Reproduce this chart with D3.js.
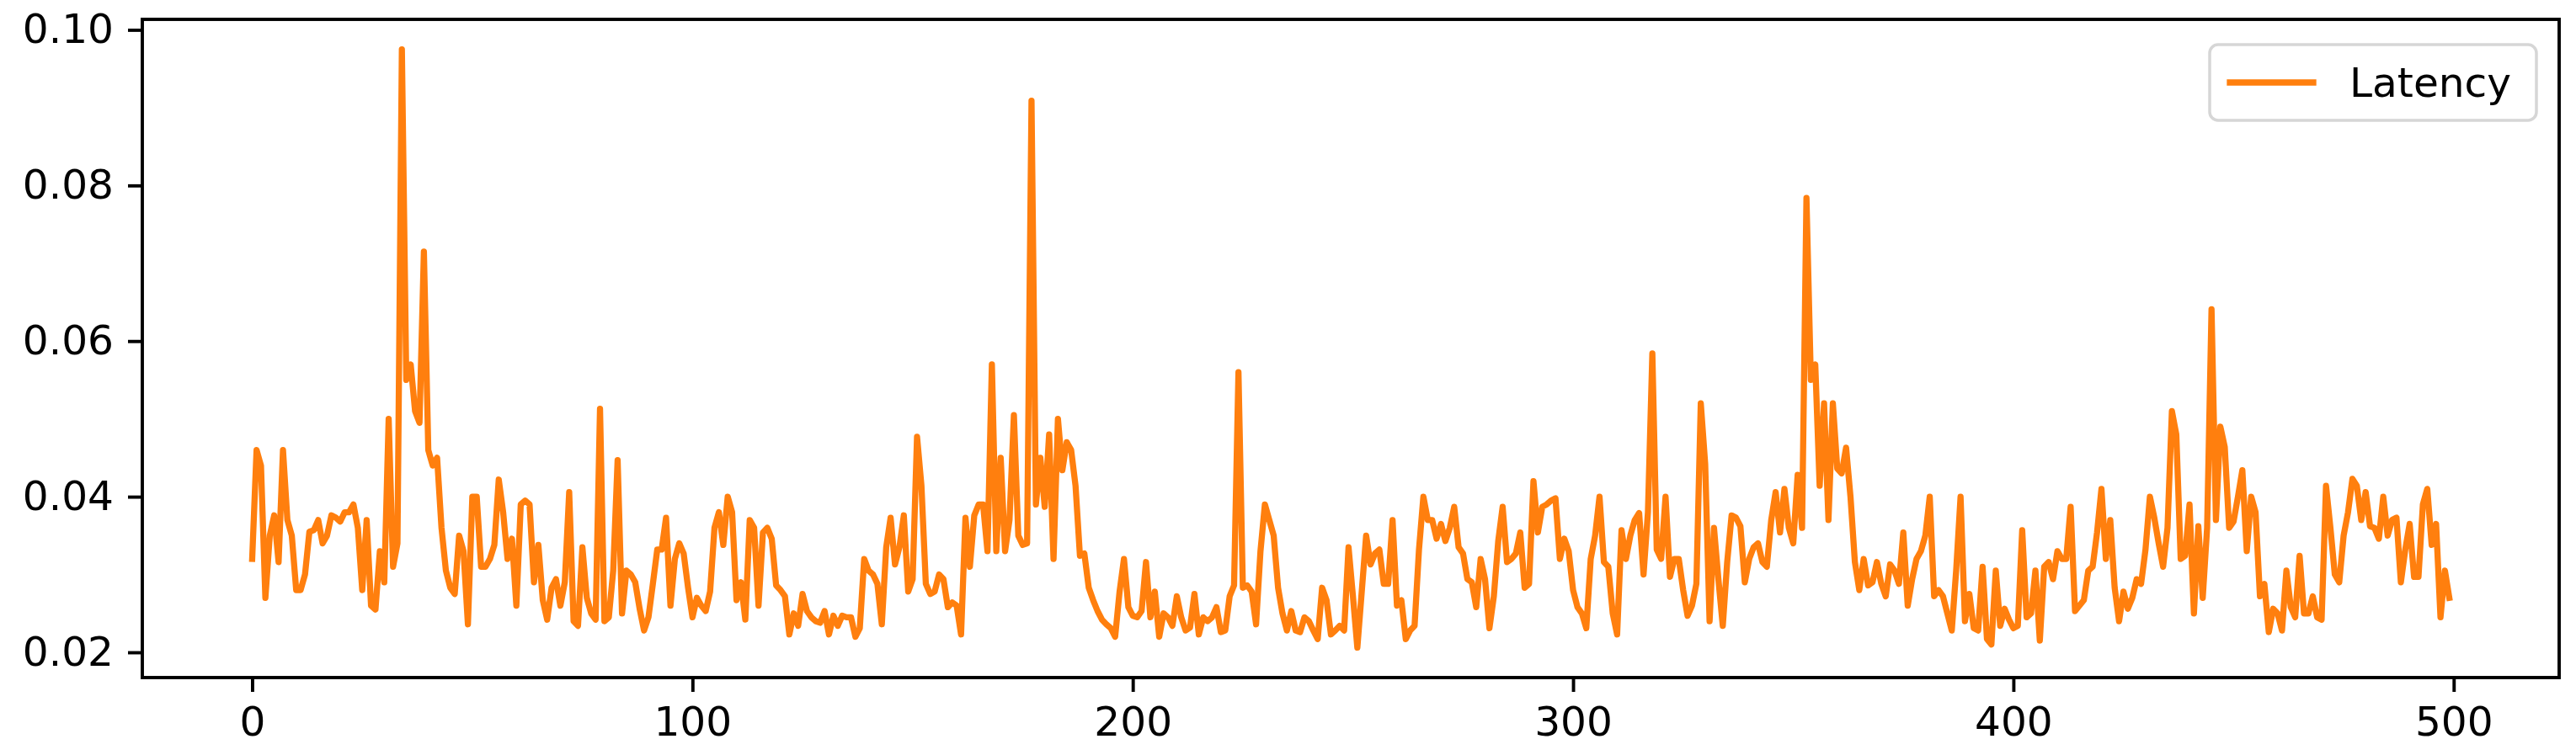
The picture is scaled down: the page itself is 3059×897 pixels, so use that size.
<!DOCTYPE html>
<html>
<head>
<meta charset="utf-8">
<script src="https://cdn.jsdelivr.net/npm/d3@7"></script>
<style>
  html, body { margin: 0; padding: 0; background: #ffffff; }
  svg { display: block; }
</style>
</head>
<body>
<svg id="chart" width="3059" height="897"></svg>
<script>
// ---- data ----
const seriesName = "Latency";
const latency = [
  0.032, 0.046, 0.044, 0.027, 0.035, 0.0376, 0.0316, 0.046, 0.037, 0.035,
  0.028, 0.028, 0.030, 0.0355, 0.0357, 0.037, 0.034, 0.035, 0.0376, 0.0373,
  0.0368, 0.038, 0.038, 0.039, 0.036, 0.028, 0.037, 0.026, 0.0255, 0.033,
  0.029, 0.050, 0.031, 0.034, 0.0975, 0.055, 0.057, 0.051, 0.0495, 0.0715,
  0.046, 0.044, 0.045, 0.036, 0.0305, 0.0283, 0.0275, 0.035, 0.033, 0.0236,
  0.040, 0.040, 0.031, 0.031, 0.032, 0.0338, 0.0422, 0.038, 0.032, 0.0346,
  0.026, 0.039, 0.0395, 0.039, 0.029, 0.0338, 0.0267, 0.0242, 0.0283, 0.0294,
  0.026, 0.029, 0.0406, 0.024, 0.0234, 0.0335, 0.027, 0.025, 0.0242, 0.0513,
  0.024, 0.0245, 0.0305, 0.0447, 0.025, 0.0305, 0.030, 0.029, 0.0256, 0.0228,
  0.0245, 0.0288, 0.0332, 0.0332, 0.0373, 0.026, 0.032, 0.034, 0.0327, 0.0283,
  0.0245, 0.027, 0.026, 0.0253, 0.0278, 0.036, 0.038, 0.0338, 0.040, 0.038,
  0.0267, 0.029, 0.0242, 0.037, 0.036, 0.026, 0.0354, 0.036, 0.0346, 0.0286,
  0.028, 0.0272, 0.0223, 0.025, 0.0234, 0.0275, 0.0253, 0.0245, 0.024, 0.0238,
  0.0253, 0.0223, 0.0247, 0.0234, 0.0247, 0.0245, 0.0245, 0.022, 0.0231, 0.032,
  0.0305, 0.030, 0.0288, 0.0236, 0.0335, 0.0373, 0.0313, 0.0335, 0.0376, 0.0278,
  0.0294, 0.0477, 0.0414, 0.0288, 0.0275, 0.0278, 0.030, 0.0294, 0.0258, 0.0264,
  0.026, 0.0223, 0.0373, 0.031, 0.0376, 0.039, 0.039, 0.033, 0.057, 0.033,
  0.045, 0.033, 0.037, 0.0505, 0.035, 0.0338, 0.034, 0.0909, 0.039, 0.045,
  0.0387, 0.048, 0.032, 0.050, 0.0434, 0.047, 0.046, 0.0414, 0.0324, 0.0327,
  0.0283, 0.0267, 0.0253, 0.0242, 0.0236, 0.0231, 0.022, 0.0278, 0.032, 0.0258,
  0.0247, 0.0245, 0.0253, 0.0316, 0.0245, 0.0278, 0.022, 0.025, 0.0245, 0.0234,
  0.0272, 0.0245, 0.0228, 0.0232, 0.0275, 0.0223, 0.0245, 0.024, 0.0245, 0.0258,
  0.0226, 0.0228, 0.0272, 0.0286, 0.056, 0.0283, 0.0286, 0.0278, 0.0236, 0.033,
  0.039, 0.037, 0.035, 0.0283, 0.025, 0.0228, 0.0253, 0.0228, 0.0226, 0.0245,
  0.024, 0.0228, 0.0217, 0.0283, 0.0267, 0.0223, 0.0228, 0.0234, 0.0228, 0.0335,
  0.0272, 0.0206, 0.0278, 0.035, 0.0313, 0.0327, 0.0332, 0.0288, 0.0288, 0.037,
  0.026, 0.0267, 0.0217, 0.0228, 0.0234, 0.0332, 0.040, 0.037, 0.037, 0.0346,
  0.0365, 0.0343, 0.036, 0.0387, 0.0335, 0.0327, 0.0294, 0.029, 0.0258, 0.032,
  0.0294, 0.0231, 0.0272, 0.0343, 0.0387, 0.0316, 0.032, 0.0327, 0.0354, 0.0283,
  0.0288, 0.042, 0.0354, 0.0387, 0.039, 0.0395, 0.0398, 0.032, 0.0346, 0.033,
  0.028, 0.0258, 0.025, 0.0231, 0.032, 0.035, 0.040, 0.0316, 0.031, 0.025,
  0.0223, 0.0357, 0.032, 0.035, 0.037, 0.0379, 0.030, 0.038, 0.0584, 0.0332,
  0.032, 0.040, 0.0297, 0.032, 0.032, 0.028, 0.0247, 0.026, 0.0288, 0.052,
  0.0442, 0.024, 0.036, 0.0294, 0.0234, 0.0316, 0.0376, 0.0373, 0.0362, 0.029,
  0.032, 0.0335, 0.034, 0.0316, 0.031, 0.037, 0.0406, 0.0354, 0.041, 0.036,
  0.034, 0.0428, 0.036, 0.0784, 0.055, 0.057, 0.0414, 0.052, 0.037, 0.052,
  0.0436, 0.043, 0.0463, 0.040, 0.0316, 0.028, 0.032, 0.0286, 0.029, 0.0316,
  0.0288, 0.0272, 0.0313, 0.0305, 0.0288, 0.0354, 0.026, 0.0294, 0.032, 0.033,
  0.035, 0.040, 0.0272, 0.028, 0.0272, 0.025, 0.0228, 0.0305, 0.040, 0.024,
  0.0275, 0.0231, 0.0228, 0.031, 0.0217, 0.021, 0.0305, 0.0234, 0.0256, 0.0242,
  0.0231, 0.0234, 0.0357, 0.0245, 0.025, 0.0305, 0.0215, 0.031, 0.0316, 0.0294,
  0.033, 0.032, 0.032, 0.0387, 0.0253, 0.026, 0.0267, 0.0305, 0.031, 0.0354,
  0.041, 0.032, 0.037, 0.0283, 0.024, 0.0278, 0.0256, 0.027, 0.0294, 0.0288,
  0.0332, 0.040, 0.0373, 0.034, 0.031, 0.036, 0.051, 0.048, 0.032, 0.0324,
  0.039, 0.025, 0.0362, 0.027, 0.036, 0.0641, 0.037, 0.049, 0.0464, 0.036,
  0.0368, 0.040, 0.0434, 0.033, 0.040, 0.038, 0.0272, 0.0288, 0.0226, 0.0256,
  0.025, 0.0228, 0.0305, 0.0258, 0.0245, 0.0324, 0.025, 0.025, 0.0272, 0.0245,
  0.0242, 0.0414, 0.036, 0.030, 0.029, 0.035, 0.038, 0.0423, 0.0414, 0.037,
  0.0406, 0.0362, 0.036, 0.0346, 0.040, 0.035, 0.037, 0.0373, 0.029, 0.0332,
  0.0365, 0.0297, 0.0297, 0.039, 0.041, 0.0338, 0.0365, 0.0245, 0.0305, 0.027
];
const xTicks = [0, 100, 200, 300, 400, 500];
const yTicks = [0.02, 0.04, 0.06, 0.08, 0.10];

// ---- layout ----
const W = 3059, H = 897;
const m = { left: 169, right: 3039, top: 23, bottom: 805 };
const FS = 48.6;          // 10pt at ~350 dpi
const LW = 7.3;           // 1.5pt
const SPINE = 3.9;        // 0.8pt
const TICKLEN = 17;
const TICKPAD = 17;
const orange = "#ff7f0e";

const svg = d3.select("#chart");
svg.append("rect").attr("width", W).attr("height", H).attr("fill", "#ffffff");

const n = latency.length;
const xPad = (n - 1) * 0.05;
const x = d3.scaleLinear().domain([-xPad, (n - 1) + xPad]).range([m.left, m.right]);
const ymin = d3.min(latency), ymax = d3.max(latency);
const yPad = (ymax - ymin) * 0.05;
const y = d3.scaleLinear().domain([ymin - yPad, ymax + yPad]).range([m.bottom, m.top]);

// line
const line = d3.line().x((d, i) => x(i)).y(d => y(d));
svg.append("path")
  .datum(latency)
  .attr("d", line)
  .attr("fill", "none")
  .attr("stroke", orange)
  .attr("stroke-width", LW)
  .attr("stroke-linejoin", "round")
  .attr("stroke-linecap", "square");

// axes
const xAxis = d3.axisBottom(x).tickValues(xTicks).tickFormat(d3.format("d"))
  .tickSize(TICKLEN).tickPadding(TICKPAD);
const yAxis = d3.axisLeft(y).tickValues(yTicks).tickFormat(d3.format(".2f"))
  .tickSize(TICKLEN).tickPadding(TICKPAD);

const gx = svg.append("g").attr("transform", `translate(0,${m.bottom})`).call(xAxis);
const gy = svg.append("g").attr("transform", `translate(${m.left},0)`).call(yAxis);
[gx, gy].forEach(g => {
  g.select(".domain").remove();
  g.selectAll(".tick line").attr("stroke", "#000").attr("stroke-width", SPINE);
  g.selectAll(".tick text")
    .attr("fill", "#000")
    .style("font-family", "'DejaVu Sans', sans-serif")
    .style("font-size", FS + "px");
});

// spines (frame)
svg.append("rect")
  .attr("x", m.left).attr("y", m.top)
  .attr("width", m.right - m.left).attr("height", m.bottom - m.top)
  .attr("fill", "none").attr("stroke", "#000").attr("stroke-width", SPINE);

// legend (upper right)
const lg = svg.append("g");
const boxRight = m.right - 27;
const boxW = 388;
const boxH = 90;
const bx = boxRight - boxW;
const by = m.top + 30;
lg.append("rect")
  .attr("x", bx).attr("y", by)
  .attr("width", boxW).attr("height", boxH)
  .attr("rx", 10).attr("ry", 10)
  .attr("fill", "rgba(255,255,255,0.8)")
  .attr("stroke", "#d6d6d6").attr("stroke-width", 3.5);
const cy = by + boxH / 2;
lg.append("line")
  .attr("x1", bx + 24).attr("x2", bx + 123)
  .attr("y1", cy).attr("y2", cy)
  .attr("stroke", orange).attr("stroke-width", LW).attr("stroke-linecap", "square");
const txt = lg.append("text")
  .text(seriesName)
  .attr("fill", "#000")
  .style("font-family", "'DejaVu Sans', sans-serif")
  .style("font-size", FS + "px")
  .attr("x", bx + 166)
  .attr("y", cy + 0.36 * FS);
</script>
</body>
</html>
